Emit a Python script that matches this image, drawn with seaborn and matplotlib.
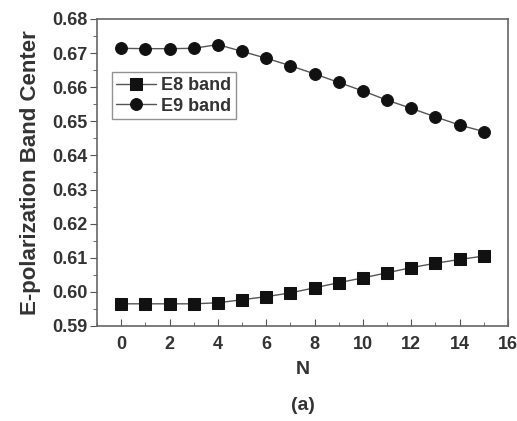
import matplotlib
matplotlib.use("Agg")
import matplotlib.pyplot as plt
import seaborn as sns
import pandas as pd
from matplotlib.ticker import MultipleLocator

N = list(range(16))
e8_band = [0.5965, 0.5965, 0.5965, 0.5965, 0.5968, 0.5977, 0.5986, 0.5997,
           0.6012, 0.6027, 0.6041, 0.6056, 0.6071, 0.6084, 0.6095, 0.6105]
e9_band = [0.6714, 0.6713, 0.6713, 0.6714, 0.6725, 0.6705, 0.6685, 0.6663,
           0.6639, 0.6614, 0.6589, 0.6562, 0.6538, 0.6513, 0.6489, 0.6470]
series = ["E8 band", "E9 band"]

df = pd.concat([
    pd.DataFrame({"N": N, "value": e8_band, "series": series[0]}),
    pd.DataFrame({"N": N, "value": e9_band, "series": series[1]}),
])

sns.set_style("ticks")
plt.rcParams["font.family"] = ["Liberation Sans", "DejaVu Sans"]
plt.rcParams["font.weight"] = "bold"

fig = plt.figure(figsize=(5.17, 4.21), dpi=100)
ax = fig.add_axes([0.1876, 0.2257, 0.7950, 0.7292])

sns.lineplot(data=df, x="N", y="value", hue="series", style="series",
             palette={"E8 band": "black", "E9 band": "black"},
             markers={"E8 band": "s", "E9 band": "o"}, dashes=False,
             markersize=8.5, linewidth=1.0, markeredgecolor="black",
             ax=ax)
for line in ax.lines:
    line.set_color("#555555")
    line.set_markerfacecolor("#111111")
    line.set_markeredgecolor("#111111")

ax.set_xlim(-1, 16)
ax.set_ylim(0.59, 0.68)
ax.xaxis.set_major_locator(MultipleLocator(2))
ax.xaxis.set_minor_locator(MultipleLocator(1))
ax.yaxis.set_major_locator(MultipleLocator(0.01))
ax.yaxis.set_minor_locator(MultipleLocator(0.005))
ax.set_xticks(range(0, 17, 2))
ax.set_xticklabels([str(v) for v in range(0, 17, 2)])
ax.set_yticks([0.59 + 0.01 * i for i in range(10)])
ax.set_yticklabels([f"{0.59 + 0.01 * i:.2f}" for i in range(10)])

for s in ax.spines.values():
    s.set_color("#666666")
    s.set_linewidth(1.2)
    s.set_visible(True)
ax.tick_params(axis="x", which="both", direction="in", colors="#555555",
               labelcolor="#333333", labelsize=13, pad=7)
ax.tick_params(axis="x", which="major", length=5)
ax.tick_params(axis="x", which="minor", length=3)
ax.tick_params(axis="y", which="both", direction="out", colors="#555555",
               labelcolor="#333333", labelsize=13, pad=2)
ax.tick_params(axis="y", which="major", length=5)
ax.tick_params(axis="y", which="minor", length=3)

ax.set_xlabel("N", fontsize=14, fontweight="bold", color="#333333", labelpad=6)
ax.set_ylabel("E-polarization Band Center", fontsize=16, fontweight="bold",
              color="#333333", labelpad=8)

leg = ax.legend(loc="upper left", bbox_to_anchor=(0.036, 0.826), fontsize=13,
                frameon=True, fancybox=False, handlelength=2.2,
                borderpad=0.25, labelspacing=0.2, handletextpad=0.3,
                borderaxespad=0)
leg.get_frame().set_edgecolor("#777777")
leg.get_frame().set_linewidth(1.0)
for t in leg.get_texts():
    t.set_color("#333333")
    t.set_fontweight("bold")
for h in leg.legend_handles:
    h.set_color("#555555")
    h.set_markerfacecolor("#111111")
    h.set_markeredgecolor("#111111")

fig.text(0.586, 0.036, "(a)", ha="center", va="center", fontsize=14,
         fontweight="bold", color="#333333")

fig.savefig("out.png", dpi=100)
